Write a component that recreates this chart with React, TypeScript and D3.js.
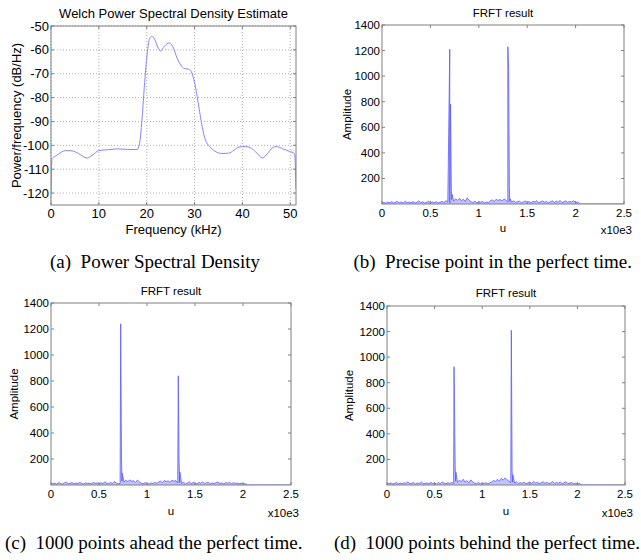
import React from "react";
import * as d3 from "d3";

// ---------- Data ----------
const psdFreq = [0, 0.2, 1.2, 3.0, 4.4, 5.8, 7.5, 8.6, 10.0, 12.1, 13.9, 16.0, 18.0, 18.5, 19.0, 19.5, 20.1, 20.6, 21.1, 21.6, 22.3, 22.9, 23.7, 24.7, 25.5, 26.4, 27.3, 28.0, 28.8, 29.5, 30.2, 30.9, 31.6, 32.3, 33.1, 34.3, 35.7, 37.1, 38.2, 39.3, 40.7, 41.7, 42.8, 44.2, 45.2, 46.3, 47.1, 48.4, 49.8, 50.9, 51.2];
const psdPower = [-120.2, -105.6, -104.2, -102.2, -102.3, -103.5, -105.3, -104.2, -102.2, -101.8, -101.5, -101.7, -101.8, -99.3, -89.5, -75.6, -61.6, -55.3, -54.3, -55.3, -58.8, -60.5, -58.5, -57.1, -58.8, -63.7, -66.9, -67.9, -68.1, -70, -75.6, -83.9, -92.3, -97.9, -100.4, -102.5, -103.4, -103.3, -102.1, -100.7, -100.5, -101, -102.8, -105.3, -103.5, -101, -100.5, -101.4, -102.5, -103.5, -118.2];

const psdXTicks = [0, 10, 20, 30, 40, 50];
const psdYTicks = [-120, -110, -100, -90, -80, -70, -60, -50];
const frftXTicks = [0, 0.5, 1, 1.5, 2, 2.5];
const frftYTicks = [200, 400, 600, 800, 1000, 1200, 1400];

const noiseStep = 0.02; // u (x10e3) spacing of the noise-floor samples
const frftEndU = 2.048;

const noiseB = [8, 12, 6, 15, 9, 18, 7, 14, 20, 10, 16, 8, 22, 11, 15, 9, 19, 7, 13, 24, 10, 17, 8, 14, 21, 9, 16, 11, 18, 8, 13, 20, 12, 25, 15,
  10,
  35, 22, 40, 28, 45, 25, 38, 20, 48, 30,
  18, 12, 22, 9, 16, 14, 20, 8, 15, 11,
  25, 32, 20, 38, 28, 35, 24, 40, 30,
  15,
  20, 14, 25, 11, 18, 22, 9, 16, 24, 12, 19, 8, 21, 15, 26, 10, 18, 23, 13, 20, 9, 17, 25, 12, 22, 14, 28, 11, 19, 24, 13, 20, 16, 26, 10, 15, 5];
const peaksBU = [0.700, 0.708, 0.716, 0.724, 1.300, 1.308, 1.316, 1.324];
const peaksBAmp = [1210, 780, 120, 75, 1230, 1050, 130, 40];

const noiseC = [6, 10, 14, 8, 18, 11, 7, 16, 22, 9, 13, 19, 8, 15, 10, 21, 12, 7, 17, 11, 14, 9, 20, 13, 16, 8, 18, 11, 24, 14, 10, 19, 12, 28, 15, 9,
  12,
  30, 22, 36, 25, 40, 28, 33, 20, 38, 24,
  14, 9, 18, 12, 7, 16, 11, 20, 13,
  22, 30, 18, 35, 26, 32, 20, 38, 28, 34,
  15,
  18, 12, 22, 9, 16, 25, 11, 19, 14, 8, 20, 13, 24, 10, 17, 21, 9, 15, 12, 18, 23, 11, 16, 8, 19, 14, 20, 10, 17, 12, 15, 9, 13, 7, 10, 4];
const peaksCU = [0.726, 0.734, 0.742, 1.326, 1.334, 1.342];
const peaksCAmp = [1240, 215, 90, 840, 185, 100];

const noiseD = [7, 11, 16, 9, 13, 20, 8, 15, 10, 18, 12, 25, 9, 14, 19, 8, 16, 11, 22, 13, 10, 17, 9, 21, 12, 15, 8, 19, 11, 24, 14, 10, 18, 12, 20,
  12,
  30, 20, 38, 26, 45, 22, 34, 18, 40, 25,
  15, 10, 19, 8, 14, 12, 18, 9, 16,
  24, 35, 28, 45, 30, 52, 38, 55, 42, 30,
  18,
  22, 14, 26, 10, 19, 13, 24, 9, 17, 21, 12, 28, 15, 20, 11, 18, 25, 13, 22, 9, 16, 27, 12, 19, 14, 23, 10, 18, 26, 11, 15, 20, 9, 14, 8, 11, 4];
const peaksDU = [0.704, 0.708, 0.716, 0.724, 1.306, 1.314, 1.322];
const peaksDAmp = [925, 700, 150, 100, 1210, 110, 80];

const captions = [
  "(a)\u00a0\u00a0Power Spectral Density",
  "(b)\u00a0\u00a0Precise point in the perfect time.",
  "(c)\u00a0\u00a01000 points ahead the perfect time.",
  "(d)\u00a0\u00a01000 points behind the perfect time.",
];

// ---------- Helpers ----------
function frftSeries(noise: number[], pu: number[], pa: number[], xMax: number): [number, number][] {
  const pts: [number, number][] = noise.map((v, i) => [i * noiseStep, v] as [number, number]);
  pu.forEach((u, i) => pts.push([u, pa[i]]));
  pts.sort((a, b) => a[0] - b[0]);
  pts.push([frftEndU, 0]);
  pts.push([xMax, 0]);
  return pts;
}

const AX = "#808080";
const SANS = "'Liberation Sans', Arial, sans-serif";
const SERIF = "'Liberation Serif', 'Times New Roman', serif";

type PanelProps = {
  id: string;
  left: number; right: number; top: number; bottom: number;
  xDomain: [number, number]; yDomain: [number, number];
  xTicks: number[]; yTicks: number[];
  grid: boolean;
  fs: number;
  title: string; titleY: number;
  xlabel: string; xlabelY: number;
  ylabel: string; ylabelX: number;
  tickLabelY: number;
  multiplier?: string; multX?: number; multY?: number;
  data: [number, number][];
  stroke: string; strokeWidth: number; smooth: boolean;
  areaFill?: string;
};

function Panel(p: PanelProps) {
  const x = d3.scaleLinear().domain(p.xDomain).range([p.left, p.right]);
  const y = d3.scaleLinear().domain(p.yDomain).range([p.bottom, p.top]);
  const gen = d3.line<[number, number]>().x((d) => x(d[0])).y((d) => y(d[1]));
  if (p.smooth) gen.curve(d3.curveMonotoneX);
  const path = gen(p.data) || "";
  const areaGen = d3.area<[number, number]>().x((d) => x(d[0])).y0(y(0)).y1((d) => y(d[1]));
  const areaPath = p.areaFill ? areaGen(p.data) || "" : "";
  const tl = 3;
  const cx = (p.left + p.right) / 2;
  const cy = (p.top + p.bottom) / 2;
  return (
    <g fontFamily={SANS} fontSize={p.fs} fill="#000">
      <defs>
        <clipPath id={p.id}>
          <rect x={p.left} y={p.top} width={p.right - p.left} height={p.bottom - p.top} />
        </clipPath>
      </defs>
      <rect x={p.left} y={p.top} width={p.right - p.left} height={p.bottom - p.top} fill="#fff" />
      {p.grid && p.xTicks.map((t) => (
        <line key={"gx" + t} x1={x(t)} x2={x(t)} y1={p.top} y2={p.bottom} stroke="#9a9a9a" strokeWidth={0.8} strokeDasharray="1,2" />
      ))}
      {p.grid && p.yTicks.map((t) => (
        <line key={"gy" + t} x1={p.left} x2={p.right} y1={y(t)} y2={y(t)} stroke="#9a9a9a" strokeWidth={0.8} strokeDasharray="1,2" />
      ))}
      {p.areaFill && (
        <path d={areaPath} fill={p.areaFill} stroke="none" clipPath={`url(#${p.id})`} />
      )}
      <path d={path} fill="none" stroke={p.stroke} strokeWidth={p.strokeWidth} clipPath={`url(#${p.id})`} strokeLinejoin="round" />
      <rect x={p.left} y={p.top} width={p.right - p.left} height={p.bottom - p.top} fill="none" stroke={AX} strokeWidth={1} />
      {p.xTicks.map((t) => (
        <g key={"tx" + t}>
          <line x1={x(t)} x2={x(t)} y1={p.bottom} y2={p.bottom - tl} stroke={AX} />
          <line x1={x(t)} x2={x(t)} y1={p.top} y2={p.top + tl} stroke={AX} />
          <text x={x(t)} y={p.tickLabelY} textAnchor="middle" dy="0.35em">{String(t)}</text>
        </g>
      ))}
      {p.yTicks.map((t) => (
        <g key={"ty" + t}>
          <line x1={p.left} x2={p.left + tl} y1={y(t)} y2={y(t)} stroke={AX} />
          <line x1={p.right} x2={p.right - tl} y1={y(t)} y2={y(t)} stroke={AX} />
          <text x={p.left - 2} y={y(t)} textAnchor="end" dy="0.35em">{String(t)}</text>
        </g>
      ))}
      <text x={cx} y={p.titleY} textAnchor="middle" dy="0.35em">{p.title}</text>
      <text x={cx} y={p.xlabelY} textAnchor="middle" dy="0.35em">{p.xlabel}</text>
      <text transform={`translate(${p.ylabelX},${cy}) rotate(-90)`} textAnchor="middle" dy="0.35em">{p.ylabel}</text>
      {p.multiplier && (
        <text x={p.multX} y={p.multY} textAnchor="end" dy="0.35em">{p.multiplier}</text>
      )}
    </g>
  );
}

export default function App() {
  const psdData: [number, number][] = psdFreq.map((f, i) => [f, psdPower[i]]);
  const dataB = frftSeries(noiseB, peaksBU, peaksBAmp, 2.5);
  const dataC = frftSeries(noiseC, peaksCU, peaksCAmp, 2.5);
  const dataD = frftSeries(noiseD, peaksDU, peaksDAmp, 2.5);
  const frftStroke = "#5a5aff";
  const frftFill = "rgba(120,120,255,0.45)";
  return (
    <svg width={641} height={560} style={{ position: "absolute", left: 0, top: 0, background: "#fff" }}>
      <rect width={641} height={560} fill="#fff" />
      <Panel id="ca" left={51} right={296} top={26} bottom={205}
        xDomain={[0, 51.2]} yDomain={[-125, -50]} xTicks={psdXTicks} yTicks={psdYTicks} grid fs={13}
        title="Welch Power Spectral Density Estimate" titleY={13}
        xlabel="Frequency (kHz)" xlabelY={229} ylabel="Power/frequency (dB/Hz)" ylabelX={16}
        tickLabelY={213} data={psdData} stroke="#8585ff" strokeWidth={1} smooth />
      <Panel id="cb" left={382} right={624} top={25} bottom={204}
        xDomain={[0, 2.5]} yDomain={[0, 1400]} xTicks={frftXTicks} yTicks={frftYTicks} grid={false} fs={11.5}
        title="FRFT result" titleY={13}
        xlabel="u" xlabelY={228} ylabel="Amplitude" ylabelX={347}
        tickLabelY={213} multiplier="x10e3" multX={632} multY={230}
        data={dataB} stroke={frftStroke} strokeWidth={0.8} smooth={false} areaFill={frftFill} />
      <Panel id="cc" left={51} right={291} top={303} bottom={485}
        xDomain={[0, 2.5]} yDomain={[0, 1400]} xTicks={frftXTicks} yTicks={frftYTicks} grid={false} fs={11.5}
        title="FRFT result" titleY={291}
        xlabel="u" xlabelY={511} ylabel="Amplitude" ylabelX={14}
        tickLabelY={493.5} multiplier="x10e3" multX={299} multY={513}
        data={dataC} stroke={frftStroke} strokeWidth={0.8} smooth={false} areaFill={frftFill} />
      <Panel id="cd" left={387} right={625} top={306} bottom={485}
        xDomain={[0, 2.5]} yDomain={[0, 1400]} xTicks={frftXTicks} yTicks={frftYTicks} grid={false} fs={11.5}
        title="FRFT result" titleY={293}
        xlabel="u" xlabelY={511} ylabel="Amplitude" ylabelX={349}
        tickLabelY={493.5} multiplier="x10e3" multX={633} multY={513}
        data={dataD} stroke={frftStroke} strokeWidth={0.8} smooth={false} areaFill={frftFill} />
      <g fontFamily={SERIF} fontSize={19} fill="#000">
        <text x={155} y={268} textAnchor="middle">{captions[0]}</text>
        <text x={632} y={268} textAnchor="end">{captions[1]}</text>
        <text x={5} y={549} textAnchor="start">{captions[2]}</text>
        <text x={640} y={549} textAnchor="end">{captions[3]}</text>
      </g>
    </svg>
  );
}
